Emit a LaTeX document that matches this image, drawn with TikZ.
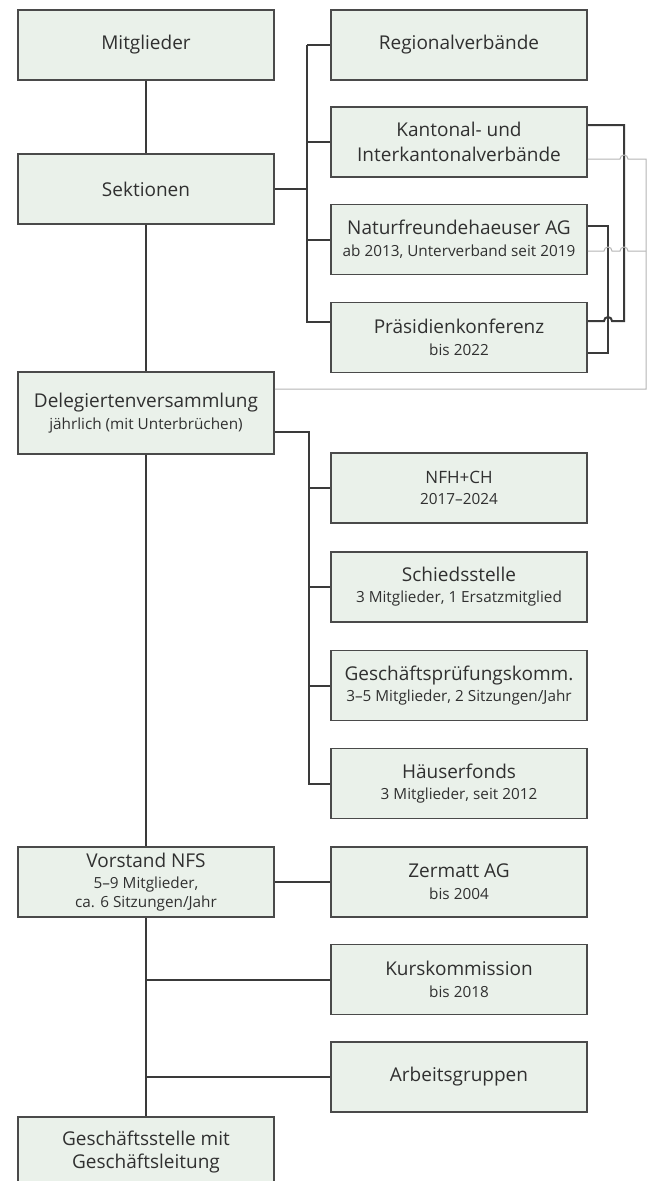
\documentclass[tikz,border=0pt]{standalone}
\usepackage{fontspec}
\setmainfont{Open Sans}
\definecolor{bd}{HTML}{4A4A4A}
\definecolor{bf}{HTML}{EAF1EA}
\definecolor{tx}{HTML}{303030}
\definecolor{ln}{HTML}{3A3A3A}
\definecolor{gl}{HTML}{B4B4B4}
\newcommand\bigtxt{\fontsize{19}{22}\selectfont}
\newcommand\smalltxt{\fontsize{15.3}{22}\selectfont}
\begin{document}
\begin{tikzpicture}[x=1pt,y=-1pt,
  box/.style={draw=bd, fill=bf, line width=1.5pt, minimum width=256pt,
    minimum height=70pt, inner sep=0pt, align=center, text=tx, font=\bigtxt},
  conn/.style={draw=ln, line width=2pt},
  thin/.style={draw=gl, line width=1pt}]
\useasboundingbox (0,0) rectangle (648,1181);
\clip (0,0) rectangle (648,1181);
% left column
\node[box] (mit) at (146,45) {Mitglieder};
\node[box] (sek) at (146,189) {Sektionen};
\node[box, minimum height=82pt] (del) at (146,413) {Delegiertenversammlung\\[0pt]{\smalltxt jährlich (mit Unterbrüchen)}};
\node[box] (vor) at (146,882) {Vorstand NFS\\[-1pt]{\smalltxt 5–9 Mitglieder,}\\[-3pt]{\smalltxt ca. 6 Sitzungen/Jahr}};
\node[box] (ges) at (146,1152) {Geschäftsstelle mit\\[1pt]Geschäftsleitung};
% right column
\node[box] (reg) at (459,45) {Regionalverbände};
\node[box] (kant) at (459,142) {Kantonal- und\\[3pt]Interkantonalverbände};
\node[box] (nat) at (459,239.5) {Naturfreundehaeuser AG\\{\smalltxt ab 2013, Unterverband seit 2019}};
\node[box] (praes) at (459,337.5) {Präsidienkonferenz\\{\smalltxt bis 2022}};
\node[box] (nfh) at (459,488) {{\fontsize{17}{22}\selectfont NFH+CH}\\[-1pt]{\smalltxt 2017–2024}};
\node[box] (sch) at (459,587) {Schiedsstelle\\[-1pt]{\smalltxt 3 Mitglieder, 1 Ersatzmitglied}};
\node[box] (gpk) at (459,685.5) {Geschäftsprüfungskomm.\\[-1pt]{\smalltxt 3–5 Mitglieder, 2 Sitzungen/Jahr}};
\node[box] (hf) at (459,783.5) {Häuserfonds\\[-1pt]{\smalltxt 3 Mitglieder, seit 2012}};
\node[box] (zer) at (459,882) {Zermatt AG\\{\smalltxt bis 2004}};
\node[box] (kurs) at (459,979.5) {Kurskommission\\{\smalltxt bis 2018}};
\node[box] (arb) at (459,1077) {Arbeitsgruppen};
% main spine
\draw[conn] (mit.south) -- (sek.north);
\draw[conn] (sek.south) -- (del.north);
\draw[conn] (del.south) -- (vor.north);
\draw[conn] (vor.south) -- (ges.north);
% Sektionen tree
\coordinate (sb) at (307,189);
\draw[conn] (sek.east) -- (sb);
\draw[conn] (reg.west -| sb) -- (reg.west);
\draw[conn] (reg.west -| sb) -- (sb |- 0,322) -- (praes.west |- 0,322);
\draw[conn] (kant.west -| sb) -- (kant.west);
\draw[conn] (nat.west -| sb) -- (nat.west);
% Delegierten tree
\coordinate (db) at (309,432);
\draw[conn] (del.east |- db) -- (db) -- (db |- hf.west) -- (hf.west);
\draw[conn] (nfh.west -| db) -- (nfh.west);
\draw[conn] (sch.west -| db) -- (sch.west);
\draw[conn] (gpk.west -| db) -- (gpk.west);
% Vorstand
\draw[conn] (vor.east) -- (zer.west);
\draw[conn] (vor.south |- kurs.west) -- (kurs.west);
\draw[conn] (vor.south |- arb.west) -- (arb.west);
% right loops (dark)
\draw[conn] (kant.east |- 0,125) -- (624,125) -- (624,321) -- (612,321)
  arc[start angle=0,end angle=180,radius=4pt] -- (praes.east |- 0,321);
\draw[conn] (nat.east |- 0,226) -- (608,226) -- (608,353) -- (praes.east |- 0,353);
% gray lines
\draw[thin] (kant.east |- 0,159) -- (620,159) arc[start angle=180,end angle=0,radius=4pt]
  -- (646,159) -- (646,389) -- (del.east |- 0,389);
\draw[thin] (nat.east |- 0,251) -- (604,251) arc[start angle=180,end angle=0,radius=4pt]
  -- (620,251) arc[start angle=180,end angle=0,radius=4pt] -- (646,251);
\end{tikzpicture}
\end{document}
